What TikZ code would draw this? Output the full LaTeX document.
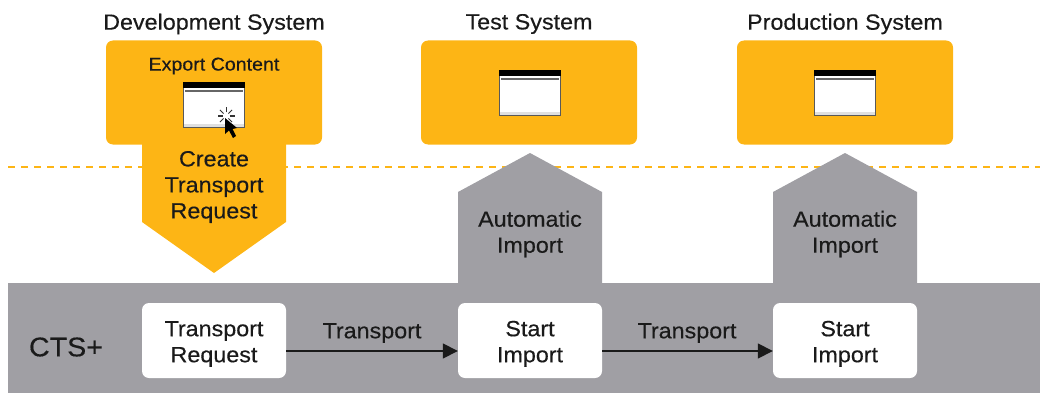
\documentclass[tikz,border=0pt]{standalone}
\usepackage{fontspec}
\setmainfont{Liberation Sans}[FakeBold=0.35,FakeStretch=1.06]
\usetikzlibrary{arrows.meta}
\definecolor{sysyellow}{HTML}{FDB515}
\definecolor{ctsgray}{HTML}{A09FA4}
\definecolor{labelink}{HTML}{1A1A1A}
\tikzset{
  sysbox/.style={fill=sysyellow, rounded corners=7pt, minimum width=216pt, minimum height=104pt, inner sep=0pt},
  stepbox/.style={fill=white, rounded corners=7pt, minimum width=144pt, minimum height=75pt, inner sep=0pt, align=center, text=labelink, font=\fontsize{22}{26}\selectfont},
  caption/.style={inner sep=0pt, text=labelink, align=center, font=\fontsize{22}{26}\selectfont},
  flow/.style={draw=labelink, line width=1.5pt, -{Triangle[length=15pt,width=15pt]}}
}
\begin{document}
\begin{tikzpicture}[x=1pt,y=-1pt]
  \useasboundingbox (0,0) rectangle (1040,393);
  % Band and line
  \fill[ctsgray] (8,283) rectangle (1040,393);
  \draw[sysyellow, line width=2.5pt, dash pattern=on 7pt off 6pt] (8,167) -- (1040,167);
  % Systems
  \foreach \i/\j/\name in {dev/214/Development System, test/529/Test System, prod/845/Production System} {
    \node[sysbox] (\i) at (\j,92.5) {};
    \node[caption] (\i title) at (\j,24) {\name};
  }
  % Arrows between the levels
  \fill[sysyellow] (142,140) -- (286,140) -- (286,222) -- (214,273) -- (142,222) -- cycle;
  \foreach \j in {530,845} {
    \fill[ctsgray] (\j-72,284) -- (\j-72,192) -- (\j,153) -- (\j+72,192) -- (\j+72,284) -- cycle;
  }
  % Windows
  \foreach \i/\j/\k in {1/214/105, 2/530/93, 3/845/93} {
    \node[fill=white, draw=black!65, line width=1pt, minimum width=61pt, minimum height=45pt, inner sep=0pt] (win\i) at (\j,\k) {};
    \fill[black] (win\i.north west) rectangle ([yshift=-6pt]win\i.north east);
    \fill[black!60] ([shift={(2pt,-8pt)}]win\i.north west) rectangle ([shift={(-2pt,-10pt)}]win\i.north east);
    \fill[black!12] ([shift={(1pt,4pt)}]win\i.south west) rectangle ([shift={(-1pt,1pt)}]win\i.south east);
  }
  % Busy mark and pointer
  \foreach \a in {0,45,...,315} {
    \draw[black!80, line width=1pt] (226,116) ++(\a:3.5pt) -- ++(\a:5pt);
  }
  \fill[black] (225,118) -- (225,134) -- (229,130.5) -- (233,138) -- (236,136) -- (232.5,129) -- (237,128) -- cycle;
  % Texts
  \node[caption, font=\fontsize{18.5}{22}\selectfont] (export) at (214,66) {Export Content};
  \node[caption] (create) at (214,187) {Create\\Transport\\Request};
  \node[caption] (auto1) at (530,234) {Automatic\\Import};
  \node[caption] (auto2) at (845,234) {Automatic\\Import};
  \node[caption, font=\fontsize{27}{30}\selectfont] (cts) at (66,347) {CTS+};
  % Steps
  \foreach \i/\j/\name in {1/214/Transport\\Request, 2/530/Start\\Import, 3/845/Start\\Import} {
    \node[stepbox] (step\i) at (\j,340.5) {\rule{0pt}{22pt}\name};
  }
  % Edges
  \foreach \source/\target in {1/2, 2/3} {
    \draw[flow] (step\source.east |- 0,351) -- (step\target.west |- 0,351);
  }
  \node[caption] (trans1) at (372,333) {Transport};
  \node[caption] (trans2) at (687,333) {Transport};
\end{tikzpicture}
\end{document}
